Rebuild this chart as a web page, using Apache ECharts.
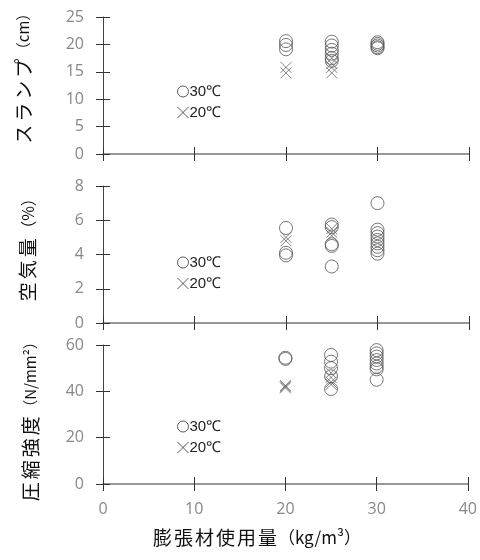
<!DOCTYPE html>
<html><head><meta charset="utf-8">
<script src="https://cdn.jsdelivr.net/npm/echarts@6/dist/echarts.min.js"></script>
<style>html,body{margin:0;padding:0;background:#fff}#c{width:480px;height:560px}</style>
</head><body><div id="c"></div>
<script>
// x ticks
const xTicks = [0, 10, 20, 30, 40];
// Slump (cm)
const slump30 = [[20,20.6],[20,19.9],[20,19.1],[25,20.5],[25,19.8],[25,19.0],[25,18.3],[25,17.5],[25,17.0],[30,20.4],[30,20.1],[30,19.8],[30,19.5],[30,19.3]];
const slump20 = [[20,15.8],[20,14.8],[25,17.5],[25,16.5],[25,15.8],[25,14.8]];
// Air content (%)
const air30 = [[20,5.55],[20,4.1],[20,3.95],[25,5.75],[25,5.6],[25,4.6],[25,4.5],[25,3.3],[30,7.0],[30,5.45],[30,5.25],[30,5.05],[30,4.85],[30,4.65],[30,4.45],[30,4.25],[30,4.05]];
const air20 = [[20,5.0],[20,4.8],[25,5.5],[25,5.3],[25,5.1]];
// Compressive strength (N/mm2)
const str30 = [[20,54.5],[20,54.0],[25,55.7],[25,52.8],[25,50.0],[25,46.5],[25,41.0],[30,57.8],[30,56.4],[30,55.0],[30,53.5],[30,52.0],[30,50.6],[30,49.5],[30,45.0]];
const str20 = [[20,42.0],[20,41.5],[20,42.5],[25,48.0],[25,46.0],[25,44.0],[25,43.0]];
const yNames = [['スランプ', '（cm）'], ['空気量', '（%）'], ['圧縮強度', '（N/mm²）']];
const yRanges = [[0,25,5],[0,8,2],[0,60,20]];
const xName = ['膨張材使用量', '（kg/m³）'];
const legendNames = ['30℃', '20℃'];

const crossPath = 'path://M0,0L10,10M10,0L0,10';
const tickStyle = {color:'#333', width:1};
const grids = [
  {left:103, right:11, top:17, height:137},
  {left:103, right:11, top:186, height:137},
  {left:103, right:11, top:345, height:139}
];
const cjk = 'Noto Sans CJK JP';
const spaced = (s) => Array.from(s).map(ch => '{a|' + ch + '}').join('');
const yNameGap = [70, 66, 63];
const yNamePad = [[0,0,0,20],[0,0,0,16],[0,8,0,0]];
const yUnitSize = [15, 16, 15];
const legendOffset = [62, 64, 69];
const xAxes = [], yAxes = [], series = [], legends = [];
grids.forEach((g, i) => {
  const last = i === 2;
  const base = {gridIndex:i, type:'value', position:'bottom', min:xTicks[0], max:xTicks[xTicks.length-1], interval:10, splitLine:{show:false}};
  xAxes.push(Object.assign({}, base, {
    axisLine:{show:true, onZero:false, lineStyle:{color:'#777', width:1.5}},
    axisTick:{show:true, length:7, lineStyle:tickStyle},
    axisLabel:{show:last, color:'#888', fontSize:16, margin:17, fontFamily:'Open Sans'},
    name: last ? spaced(xName[0]) + '{b|' + xName[1] + '}' : '', nameLocation:'middle', nameGap:44,
    nameTextStyle:{color:'#111', fontFamily:cjk, padding:[0,58,0,0],
      rich:{a:{fontSize:19, fontFamily:cjk, color:'#111', padding:[0,1], verticalAlign:'middle'},
            b:{fontSize:17, fontFamily:cjk, color:'#111', verticalAlign:'middle'}}}
  }));
  xAxes.push(Object.assign({}, base, {
    axisLine:{show:false, onZero:false}, axisTick:{show:true, inside:true, length:7, lineStyle:tickStyle},
    axisLabel:{show:false}
  }));
  const r = yRanges[i];
  const ybase = {gridIndex:i, type:'value', position:'left', min:r[0], max:r[1], interval:r[2], splitLine:{show:false}};
  yAxes.push(Object.assign({}, ybase, {
    axisLine:{show:true, onZero:false, lineStyle:{color:'#444', width:1}},
    axisTick:{show:true, length:7, lineStyle:tickStyle},
    axisLabel:{color:'#888', fontSize:16, margin:19, fontFamily:'Open Sans'},
    name: spaced(yNames[i][0]) + '{b|' + yNames[i][1] + '}', nameLocation:'middle', nameGap:yNameGap[i], nameRotate:90,
    nameTextStyle:{color:'#111', fontFamily:cjk, padding:yNamePad[i],
      rich:{a:{fontSize:19, fontFamily:cjk, color:'#111', padding:[0,1.5], verticalAlign:'middle'},
            b:{fontSize:yUnitSize[i], fontFamily:cjk, color:'#111', verticalAlign:'middle'}}}
  }));
  yAxes.push(Object.assign({}, ybase, {
    axisLine:{show:false, onZero:false}, axisTick:{show:true, inside:true, length:7, lineStyle:tickStyle},
    axisLabel:{show:false}
  }));
});
const sets = [[slump30, slump20],[air30, air20],[str30, str20]];
sets.forEach((pair, i) => {
  series.push({type:'scatter', name:legendNames[0], xAxisIndex:2*i, yAxisIndex:2*i, data:pair[0],
    symbol:'circle', symbolSize:13,
    itemStyle:{color:'rgba(0,0,0,0)', borderColor:'#555', borderWidth:1}});
  series.push({type:'scatter', name:legendNames[1], xAxisIndex:2*i, yAxisIndex:2*i, data:pair[1],
    symbol:crossPath, symbolSize:11,
    itemStyle:{color:'rgba(0,0,0,0)', borderColor:'#666', borderWidth:1}});
  legends.push({
    orient:'vertical', left:172, top:grids[i].top + legendOffset[i], itemGap:6, itemWidth:11, itemHeight:11,
    selectedMode:false,
    itemStyle:{color:'rgba(0,0,0,0)', borderColor:'#333', borderWidth:1},
    textStyle:{fontSize:15, color:'#222', fontFamily:'Liberation Sans', padding:[0,0,0,-4]},
    data:[{name:legendNames[0], icon:'circle'}, {name:legendNames[1], icon:crossPath}]
  });
});
const chart = echarts.init(document.getElementById('c'));
chart.setOption({
  animation:false, backgroundColor:'#fff',
  grid:grids, xAxis:xAxes, yAxis:yAxes, series:series, legend:legends
});
</script></body></html>
